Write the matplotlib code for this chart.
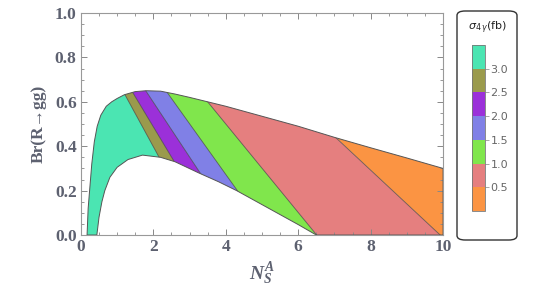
import matplotlib.pyplot as plt
import numpy as np
from matplotlib.patches import Polygon, FancyBboxPatch
from matplotlib.colors import ListedColormap, BoundaryNorm
import matplotlib as mpl

plt.rcParams['mathtext.fontset'] = 'custom'
plt.rcParams['mathtext.it'] = 'Liberation Serif:italic:bold'
plt.rcParams['mathtext.rm'] = 'Liberation Serif:bold'

# upper and lower edges of the allowed region
upper_x = [0.17, 0.20, 0.25, 0.30, 0.37, 0.45, 0.55, 0.70, 0.85, 1.0, 1.2, 1.5, 1.8, 2.2, 2.6, 3.0, 3.5, 4.0, 5.0, 6.0, 7.0, 8.0, 9.0, 10.0]
upper_y = [0.0, 0.12, 0.22, 0.32, 0.42, 0.49, 0.54, 0.58, 0.60, 0.615, 0.632, 0.646, 0.65, 0.648, 0.635, 0.62, 0.60, 0.58, 0.535, 0.49, 0.44, 0.393, 0.347, 0.30]
lower_x = [0.44, 0.50, 0.58, 0.66, 0.80, 1.0, 1.3, 1.7, 2.2, 2.6, 3.25, 3.8, 4.3, 5.0, 5.5, 6.0, 6.5]
lower_y = [0.0, 0.08, 0.15, 0.20, 0.26, 0.305, 0.34, 0.36, 0.35, 0.33, 0.28, 0.24, 0.20, 0.137, 0.092, 0.047, 0.0]

# contour lines between the cross-section bands (top point, bottom point)
sigma_levels = [3.0, 2.5, 2.0, 1.5, 1.0, 0.5]
edge_top_x = [1.19, 1.42, 1.79, 2.37, 3.50, 7.03]
edge_top_y = [0.64, 0.645, 0.65, 0.645, 0.60, 0.44]
edge_bot_x = [2.16, 2.58, 3.29, 4.32, 6.51, 9.92]
edge_bot_y = [0.35, 0.33, 0.28, 0.20, 0.0, 0.0]

band_colors = ['#4BE5B2', '#9A9A4C', '#9B30D9', '#8080E6', '#80E64C', '#E57F7F', '#FB9443']

fig = plt.figure(figsize=(5.43, 2.96), dpi=100)
ax = fig.add_axes([0.149, 0.206, 0.667, 0.750])

verts = list(zip(upper_x, upper_y)) + [(10.0, 0.0)] + list(zip(lower_x[::-1], lower_y[::-1]))
region = Polygon(verts, closed=True, facecolor='none', edgecolor='#555555', lw=0.7, zorder=4)
ax.add_patch(region)

def edge_at(k, y):
    if k < 0:
        return -2.0
    if k >= len(edge_top_x):
        return 12.0
    xt, yt, xb, yb = edge_top_x[k], edge_top_y[k], edge_bot_x[k], edge_bot_y[k]
    return xb + (y - yb) * (xt - xb) / (yt - yb)

for i, c in enumerate(band_colors):
    ylo, yhi = -0.3, 1.3
    strip = [(edge_at(i - 1, yhi), yhi), (edge_at(i, yhi), yhi),
             (edge_at(i, ylo), ylo), (edge_at(i - 1, ylo), ylo)]
    p = Polygon(strip, closed=True, facecolor=c, edgecolor='none', zorder=1)
    ax.add_patch(p)
    p.set_clip_path(region)

for k in range(len(edge_top_x)):
    ys = np.array([1.3, -0.3])
    xs = [edge_at(k, y) for y in ys]
    ln, = ax.plot(xs, ys, color='#3a3a3a', lw=0.6, alpha=0.75, zorder=3)
    ln.set_clip_path(region)

ax.set_xlim(0, 10)
ax.set_ylim(0, 1.0)
ax.set_xticks([0, 2, 4, 6, 8, 10])
ax.set_yticks([0.0, 0.2, 0.4, 0.6, 0.8, 1.0])
ax.set_yticklabels(['0.0', '0.2', '0.4', '0.6', '0.8', '1.0'])
ax.set_xticks(np.arange(0, 10.01, 0.5), minor=True)
ax.set_yticks(np.arange(0, 1.001, 0.05), minor=True)
ax.tick_params(which='both', direction='in', top=True, right=True, color='#888888')
ax.tick_params(which='major', length=4, width=0.7)
ax.tick_params(which='minor', length=2.5, width=0.6)
for s in ax.spines.values():
    s.set_color('#999999')
    s.set_linewidth(0.8)

lab_color = '#5d6170'
for t in ax.get_xticklabels() + ax.get_yticklabels():
    t.set_fontfamily('Liberation Serif')
    t.set_fontweight('bold')
    t.set_fontsize(12.5)
    t.set_color(lab_color)
ax.tick_params(axis='y', pad=3)
ax.tick_params(axis='x', pad=3)

ax.set_ylabel('Br(R\u2192gg)', fontfamily=['Liberation Serif', 'DejaVu Serif'], fontweight='bold',
              fontsize=12.5, color=lab_color, labelpad=6)
ax.set_xlabel(r'$N_S^A$', fontsize=14, color=lab_color, labelpad=4)

# legend box
box = FancyBboxPatch((457 / 543, 1 - 240 / 296), 60 / 543, 229 / 296,
                     boxstyle='round,pad=0,rounding_size=0.015',
                     transform=fig.transFigure, facecolor='white',
                     edgecolor='#333333', lw=1.0, zorder=-5)
fig.patches.append(box)
fig.text(487 / 543, 1 - 28 / 296, r'$\sigma_{4\,\gamma}$(fb)', ha='center', va='center',
         fontsize=8, color='#222222', fontfamily='DejaVu Sans',
         math_fontfamily='dejavusans', zorder=5)

cax = fig.add_axes([472 / 543, 1 - 211 / 296, 13 / 543, 166 / 296])
cax.set_zorder(5)
cmap = ListedColormap(band_colors[::-1])
bounds = [0.0] + sigma_levels[::-1] + [3.5]
norm = BoundaryNorm(bounds, cmap.N)
cb = mpl.colorbar.ColorbarBase(cax, cmap=cmap, norm=norm, ticks=sigma_levels[::-1],
                               orientation='vertical')
cb.ax.set_yticklabels(['%.1f' % v for v in sigma_levels[::-1]])
cb.ax.tick_params(length=3, width=0.6, color='#999999', labelsize=8,
                  labelcolor='#666666', pad=1)
cb.outline.set_edgecolor('#777777')
cb.outline.set_linewidth(0.6)
cb.ax.minorticks_off()

fig.savefig('out.png', dpi=100)
